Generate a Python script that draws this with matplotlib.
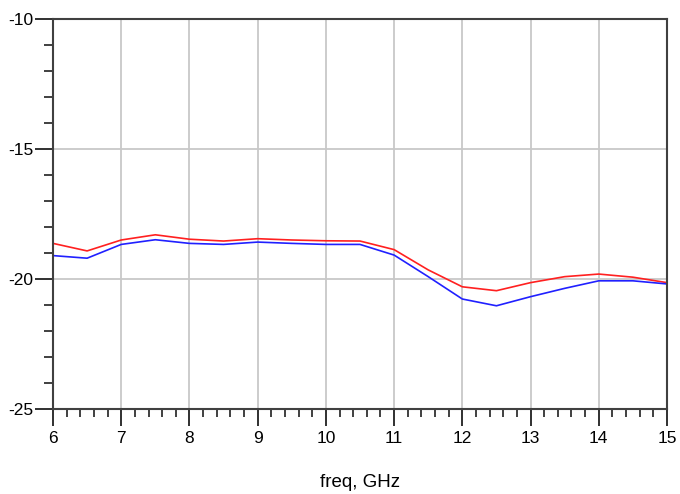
import matplotlib
matplotlib.use('Agg')
import matplotlib.pyplot as plt
from matplotlib.ticker import MultipleLocator

freq = [6.0, 6.5, 7.0, 7.5, 8.0, 8.5, 9.0, 9.5, 10.0, 10.5,
        11.0, 11.5, 12.0, 12.5, 13.0, 13.5, 14.0, 14.5, 15.0]
red_db = [-18.63, -18.92, -18.50, -18.30, -18.47, -18.54, -18.45, -18.50, -18.53, -18.54,
          -18.87, -19.65, -20.30, -20.45, -20.14, -19.91, -19.81, -19.93, -20.14]
blue_db = [-19.10, -19.20, -18.67, -18.49, -18.63, -18.67, -18.58, -18.63, -18.67, -18.67,
           -19.08, -19.91, -20.77, -21.03, -20.68, -20.36, -20.07, -20.07, -20.19]

plt.rcParams['font.family'] = ['Liberation Sans', 'DejaVu Sans']
plt.rcParams['axes.unicode_minus'] = False

fig = plt.figure(figsize=(6.8, 4.94), dpi=100)
ax = fig.add_axes([53 / 680, 1 - 409 / 494, 614 / 680, 390 / 494])

ax.plot(freq, red_db, color='#ff2020', lw=1.2)
ax.plot(freq, blue_db, color='#2020ff', lw=1.2)

ax.set_xlim(6, 15)
ax.set_ylim(-25, -10)
ax.xaxis.set_major_locator(MultipleLocator(1))
ax.xaxis.set_minor_locator(MultipleLocator(0.2))
ax.yaxis.set_major_locator(MultipleLocator(5))
ax.yaxis.set_minor_locator(MultipleLocator(1))

ax.grid(True, which='major', color='#c8c8c8', lw=1.3)
ax.set_axisbelow(True)

for s in ax.spines.values():
    s.set_color('#404040')
    s.set_linewidth(1.5)

ax.tick_params(axis='x', which='major', length=12, width=1.3, color='#202020',
               labelsize=12.5, pad=4, direction='out')
ax.tick_params(axis='x', which='minor', length=5.5, width=1.2, color='#202020', direction='out')
ax.tick_params(axis='y', which='major', length=13, width=1.3, color='#202020',
               labelsize=12.5, pad=1, direction='out')
ax.tick_params(axis='y', which='minor', length=6.5, width=1.2, color='#202020', direction='out')

ax.set_xlabel('freq, GHz', fontsize=13.5, labelpad=20)

fig.savefig('out.png', dpi=100)
